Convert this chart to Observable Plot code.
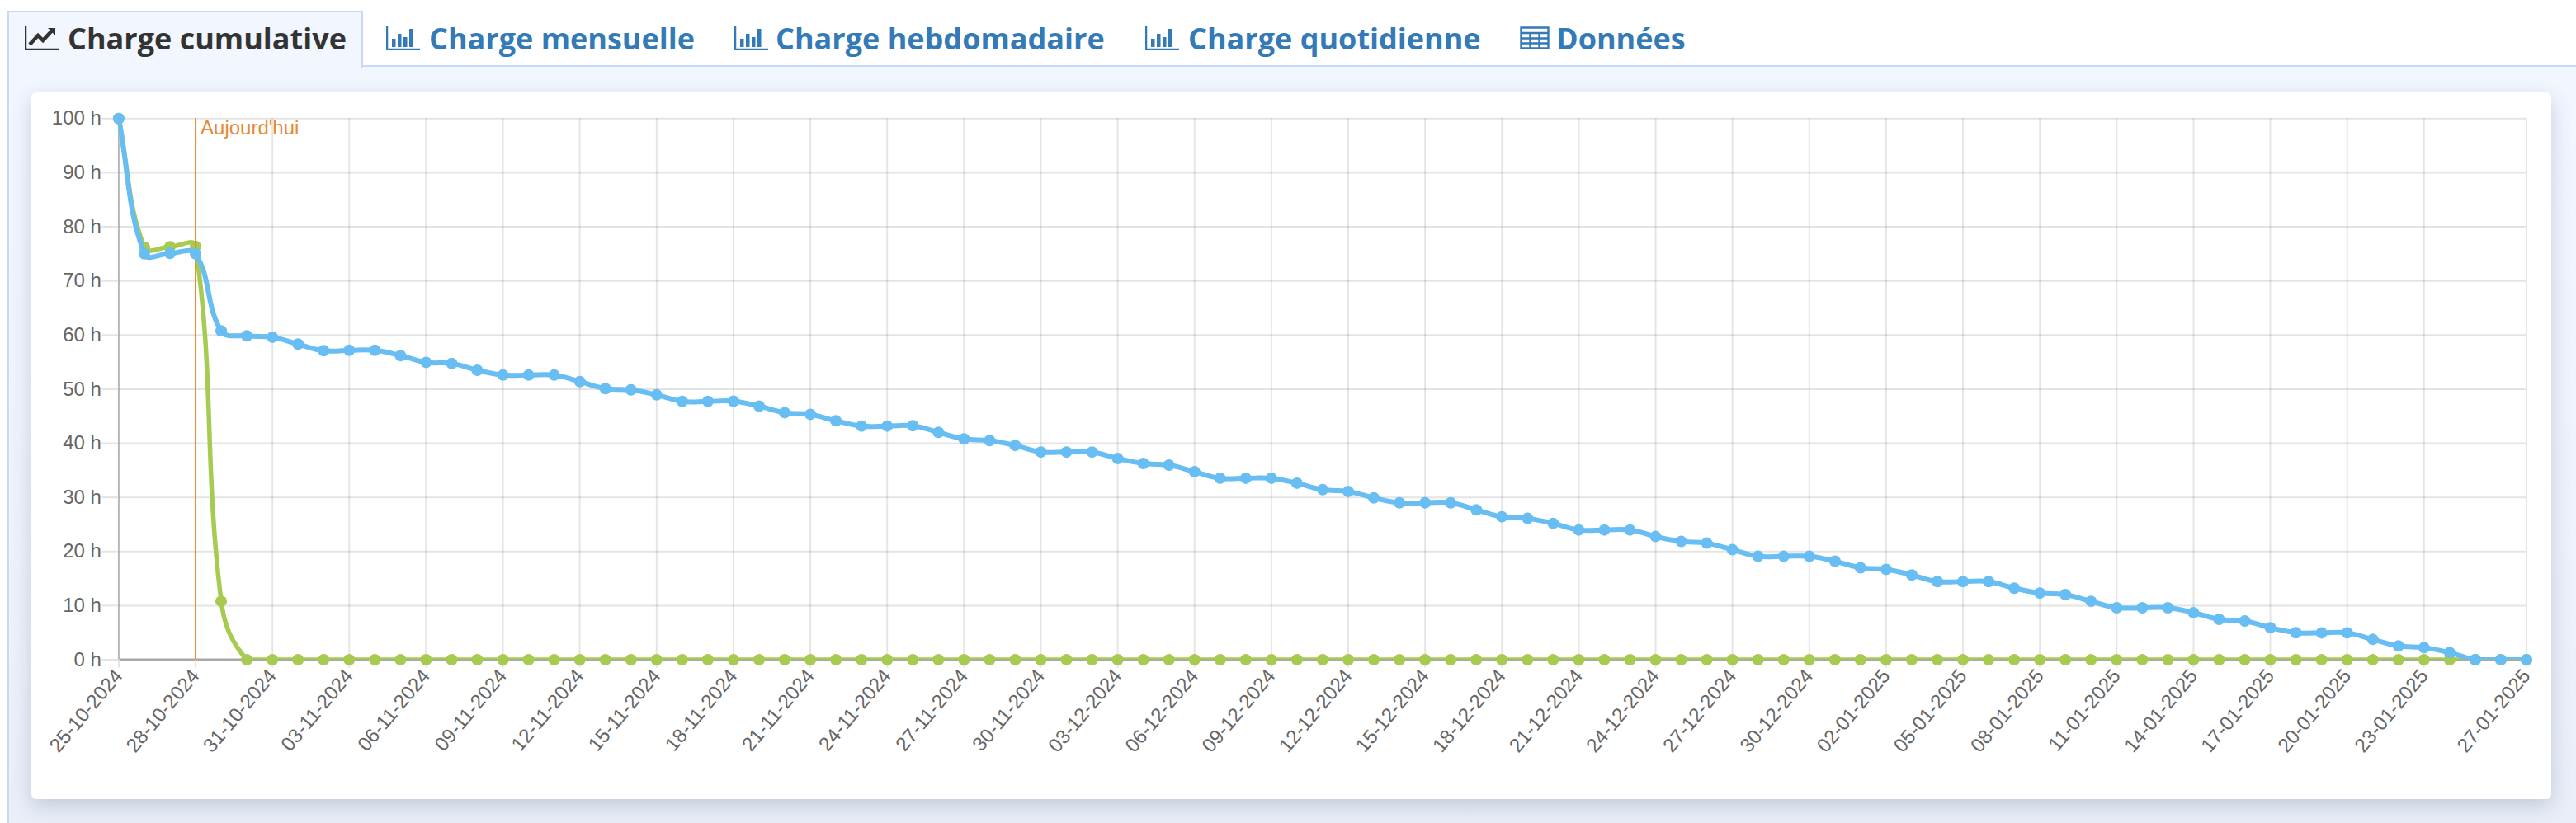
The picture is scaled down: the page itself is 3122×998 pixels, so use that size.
<!DOCTYPE html>
<html lang="fr">
<head>
<meta charset="utf-8">
<title>Charge cumulative</title>
<script src="https://cdn.jsdelivr.net/npm/d3@7"></script>
<script src="https://cdn.jsdelivr.net/npm/@observablehq/plot@0.6"></script>
<style>
  html,body{margin:0;padding:0;background:#fff;width:3122px;height:998px;overflow:hidden;}
  #page{position:relative;width:3122px;height:998px;overflow:hidden;font-family:"Open Sans",sans-serif;}
  #panel{position:absolute;left:9px;top:79px;right:0;bottom:0;box-sizing:border-box;
    border-left:2px solid #cbd8f5;border-top:2px solid #cbd8f5;
    background:linear-gradient(180deg,#f2f6fe 0%,#eef2fb 60%,#e9eef8 100%);}
  #tabactive{position:absolute;left:9px;top:13px;width:431px;height:70px;box-sizing:border-box;
    border:2px solid #cbd8f5;border-bottom:none;background:#f2f6fe;}
  .tab{position:absolute;top:22px;font-size:36px;line-height:50px;font-weight:700;color:#337ab7;white-space:nowrap;}
  .tab.on{color:#333;}
  .ico{position:absolute;top:31px;}
  #card{position:absolute;left:38px;top:112px;width:3054px;height:857px;background:#fff;border-radius:6px;
    box-shadow:0 8px 24px rgba(70,85,120,.24);}
  #chart svg{display:block;background:transparent;}
</style>
</head>
<body>
<div id="page">
  <div id="panel"></div>
  <div id="tabactive"></div>
  <svg class="ico" style="left:30px" width="41" height="30" viewBox="0 0 41 30"><path d="M1 0V29H41" fill="none" stroke="#333" stroke-width="2.5"/><path d="M6 23L16 12L22 18L34 5" fill="none" stroke="#333" stroke-width="4.5"/><path d="M28 3H37V12Z" fill="#333"/></svg>
  <span class="tab on" style="left:82px">Charge cumulative</span>
  <svg class="ico" style="left:468px" width="41" height="30" viewBox="0 0 41 30" fill="#337ab7"><path d="M1 0V29H41" fill="none" stroke="#337ab7" stroke-width="2.5"/><rect x="7" y="16" width="4.5" height="10"/><rect x="14" y="10" width="4.5" height="16"/><rect x="21" y="14" width="4.5" height="12"/><rect x="28" y="4" width="4.5" height="22"/></svg>
  <span class="tab" style="left:520px">Charge mensuelle</span>
  <svg class="ico" style="left:890px" width="41" height="30" viewBox="0 0 41 30" fill="#337ab7"><path d="M1 0V29H41" fill="none" stroke="#337ab7" stroke-width="2.5"/><rect x="7" y="16" width="4.5" height="10"/><rect x="14" y="10" width="4.5" height="16"/><rect x="21" y="14" width="4.5" height="12"/><rect x="28" y="4" width="4.5" height="22"/></svg>
  <span class="tab" style="left:940px">Charge hebdomadaire</span>
  <svg class="ico" style="left:1388px" width="41" height="30" viewBox="0 0 41 30" fill="#337ab7"><path d="M1 0V29H41" fill="none" stroke="#337ab7" stroke-width="2.5"/><rect x="7" y="16" width="4.5" height="10"/><rect x="14" y="10" width="4.5" height="16"/><rect x="21" y="14" width="4.5" height="12"/><rect x="28" y="4" width="4.5" height="22"/></svg>
  <span class="tab" style="left:1440px">Charge quotidienne</span>
  <svg class="ico" style="left:1842px;top:32px" width="36" height="28" viewBox="0 0 36 28"><path d="M1.5 1.5H34.5V26.5H1.5ZM1.5 8H34.5M1.5 14.5H34.5M1.5 20.5H34.5M12.5 8V26.5M23.5 8V26.5" fill="none" stroke="#337ab7" stroke-width="2.4"/></svg>
  <span class="tab" style="left:1886px">Données</span>
  <div id="card"><div id="chart"></div></div>
</div>
<script>
const startDate = "2024-10-25";
const endDate = "2025-01-27";
const todayDate = "2024-10-28";
const todayLabel = "Aujourd'hui";

const tickLabels = ["25-10-2024","28-10-2024","31-10-2024","03-11-2024","06-11-2024","09-11-2024","12-11-2024","15-11-2024","18-11-2024","21-11-2024","24-11-2024","27-11-2024","30-11-2024","03-12-2024","06-12-2024","09-12-2024","12-12-2024","15-12-2024","18-12-2024","21-12-2024","24-12-2024","27-12-2024","30-12-2024","02-01-2025","05-01-2025","08-01-2025","11-01-2025","14-01-2025","17-01-2025","20-01-2025","23-01-2025","27-01-2025"];
const yTicks = [0,10,20,30,40,50,60,70,80,90,100];

const blueValues = [100,75.0,75.1,75.0,60.76,59.85,59.6,58.33,57.1,57.17,57.17,56.2,54.95,54.75,53.5,52.6,52.6,52.6,51.4,50.1,49.87,48.94,47.73,47.73,47.78,46.87,45.66,45.35,44.14,43.18,43.18,43.23,42.02,40.8,40.5,39.6,38.38,38.38,38.38,37.17,36.26,35.96,34.75,33.54,33.54,33.54,32.63,31.42,31.1,29.9,29.0,29.0,29.0,27.7,26.42,26.12,25.2,23.98,23.98,23.98,22.77,21.85,21.55,20.33,19.11,19.11,19.11,18.2,17.0,16.7,15.66,14.44,14.44,14.44,13.23,12.32,12.02,10.8,9.6,9.6,9.6,8.69,7.47,7.15,5.92,5.0,4.97,4.97,3.76,2.54,2.23,1.32,0,0,0];
const greenValues = [100,76.25,76.3,76.4,10.8,0,0,0,0,0,0,0,0,0,0,0,0,0,0,0,0,0,0,0,0,0,0,0,0,0,0,0,0,0,0,0,0,0,0,0,0,0,0,0,0,0,0,0,0,0,0,0,0,0,0,0,0,0,0,0,0,0,0,0,0,0,0,0,0,0,0,0,0,0,0,0,0,0,0,0,0,0,0,0,0,0,0,0,0,0,0,0,0,0,0];

const blueColor = "#68bdf2", greenColor = "#a6cb50", orange = "#e58a35", textGrey = "#666";

const parseDate = d3.utcParse("%d-%m-%Y");
const dates = d3.utcDays(new Date(startDate), d3.utcDay.offset(new Date(endDate), 1));
const ticks = tickLabels.map(parseDate);
const blue = dates.map((date, i) => ({date, value: blueValues[i]}));
const green = dates.map((date, i) => ({date, value: greenValues[i]}));
const today = new Date(todayDate);

// Chart.js style spline (tension 0.4, control points capped to the plot area) as a curve factory for Plot.line
function chartSpline(context) {
  let pts = [];
  const t = 0.4;
  return {
    lineStart() { pts = []; },
    point(x, y) { pts.push([+x, +y]); },
    lineEnd() {
      const n = pts.length; if (!n) return;
      const ys = pts.map(p => p[1]);
      const lo = Math.min(...ys), hi = Math.max(...ys);
      const cap = v => Math.max(lo, Math.min(hi, v));
      const ctrl = pts.map((p, i) => {
        const a = pts[Math.max(i - 1, 0)], b = pts[Math.min(i + 1, n - 1)];
        const d01 = Math.hypot(p[0]-a[0], p[1]-a[1]), d12 = Math.hypot(b[0]-p[0], b[1]-p[1]);
        const s = d01 + d12 || 1;
        const fa = t * d01 / s, fb = t * d12 / s;
        return {prev: [p[0]-fa*(b[0]-a[0]), cap(p[1]-fa*(b[1]-a[1]))], next: [p[0]+fb*(b[0]-a[0]), cap(p[1]+fb*(b[1]-a[1]))]};
      });
      context.moveTo(pts[0][0], pts[0][1]);
      for (let i = 1; i < n; i++) {
        context.bezierCurveTo(ctrl[i-1].next[0], ctrl[i-1].next[1], ctrl[i].prev[0], ctrl[i].prev[1], pts[i][0], pts[i][1]);
      }
    },
    areaStart() {}, areaEnd() {}
  };
}

const chart = Plot.plot({
  width: 3054,
  height: 857,
  marginLeft: 105.4,
  marginRight: 30.5,
  marginTop: 31.3,
  marginBottom: 169.5,
  style: {fontFamily: "'Liberation Sans', Arial, sans-serif", fontSize: "24px", background: "transparent", overflow: "visible"},
  x: {type: "utc", domain: [dates[0], dates[dates.length - 1]]},
  y: {domain: [0, 100]},
  marks: [
    Plot.gridY(yTicks, {stroke: "#000", strokeOpacity: 0.105, strokeWidth: 2}),
    Plot.gridX(ticks, {stroke: "#000", strokeOpacity: 0.1, strokeWidth: 2}),
    Plot.ruleX([dates[0]], {stroke: "#000", strokeOpacity: 0.2, strokeWidth: 2}),
    Plot.ruleY([0], {stroke: "#a8a8a8", strokeWidth: 3}),
    Plot.axisY({ticks: yTicks, tickFormat: d => d + " h", tickSize: 20, tickPadding: 1, stroke: "#e3e3e3", strokeWidth: 2, fill: textGrey, fontSize: 24, label: null}),
    Plot.axisX({ticks, tickFormat: d3.utcFormat("%d-%m-%Y"), tickSize: 10, tickPadding: 5, tickRotate: -50, textAnchor: "end", stroke: "#e3e3e3", strokeWidth: 2, fill: textGrey, fontSize: 24, label: null}),
    Plot.line(green, {x: "date", y: "value", stroke: greenColor, strokeWidth: 5.5, curve: chartSpline, clip: true}),
    Plot.dot(green, {x: "date", y: "value", r: 7, fill: greenColor}),
    Plot.ruleX([today], {stroke: orange, strokeWidth: 2}),
    Plot.text([today], {x: d => d, y: () => 100, text: () => todayLabel, textAnchor: "start", dx: 6, dy: 12, fill: orange, fontSize: 24}),
    Plot.line(blue, {x: "date", y: "value", stroke: blueColor, strokeWidth: 6, curve: chartSpline, clip: true}),
    Plot.dot(blue, {x: "date", y: "value", r: 7, fill: blueColor})
  ]
});
document.getElementById("chart").appendChild(chart);
</script>
</body>
</html>
